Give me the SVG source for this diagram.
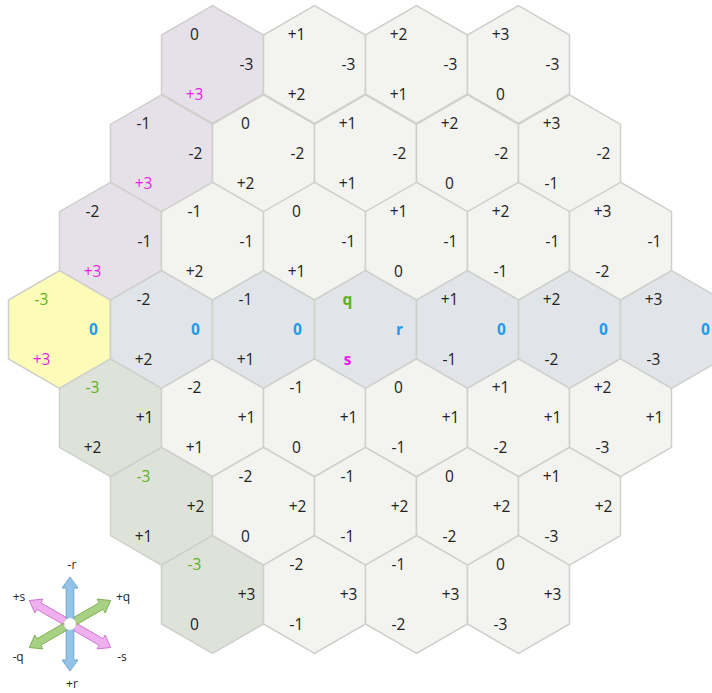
<svg xmlns="http://www.w3.org/2000/svg" xmlns:xlink="http://www.w3.org/1999/xlink" width="712" height="693" viewBox="0 0 712 693">
<style>
.hx{stroke:#cfcfcc;stroke-width:1.5}
.fg{fill:#f3f3f0}.fp{fill:#e6e1e8}.fb{fill:#e1e5e9}.fn{fill:#dee3d9}.fy{fill:#fcfcb8}
text{font-family:"Open Sans","Noto Sans","Liberation Sans",sans-serif;font-size:15.5px;fill:#222;text-anchor:middle}
.cq{fill:#5cb31a}.cr{fill:#1f9bea;font-weight:bold}.cs{fill:#e61ee6}
.bold{font-weight:bold}
.lg{font-size:12px}
.ab{fill:#6fb0e0;fill-opacity:.75;stroke:#5a9cc8;stroke-width:.8}
.ap{fill:#e585e5;fill-opacity:.65;stroke:#c86ac8;stroke-width:.8}
.ag{fill:#8cc25a;fill-opacity:.75;stroke:#74a848;stroke-width:.8}
</style>
<defs>
<polygon id="hx" points="0,-58.9 51,-29.45 51,29.45 0,58.9 -51,29.45 -51,-29.45"/>
<polygon id="arr" points="-47,0 -36,-8 -36,-3.8 36,-3.8 36,-8 47,0 36,8 36,3.8 -36,3.8 -36,8"/>
</defs>
<g id="grid">
<g id="h_0_m3" transform="translate(212.5,64.45)"><use href="#hx" class="hx fp"/><text x="-18" y="-24.5">0</text><text x="34" y="5.5">-3</text><text x="-18" y="35.5" class="cs">+3</text></g>
<g id="h_1_m3" transform="translate(314.5,64.45)"><use href="#hx" class="hx fg"/><text x="-18" y="-24.5">+1</text><text x="34" y="5.5">-3</text><text x="-18" y="35.5">+2</text></g>
<g id="h_2_m3" transform="translate(416.5,64.45)"><use href="#hx" class="hx fg"/><text x="-18" y="-24.5">+2</text><text x="34" y="5.5">-3</text><text x="-18" y="35.5">+1</text></g>
<g id="h_3_m3" transform="translate(518.5,64.45)"><use href="#hx" class="hx fg"/><text x="-18" y="-24.5">+3</text><text x="34" y="5.5">-3</text><text x="-18" y="35.5">0</text></g>

<g id="h_m1_m2" transform="translate(161.5,153.8)"><use href="#hx" class="hx fp"/><text x="-18" y="-24.5">-1</text><text x="34" y="5.5">-2</text><text x="-18" y="35.5" class="cs">+3</text></g>
<g id="h_0_m2" transform="translate(263.5,153.8)"><use href="#hx" class="hx fg"/><text x="-18" y="-24.5">0</text><text x="34" y="5.5">-2</text><text x="-18" y="35.5">+2</text></g>
<g id="h_1_m2" transform="translate(365.5,153.8)"><use href="#hx" class="hx fg"/><text x="-18" y="-24.5">+1</text><text x="34" y="5.5">-2</text><text x="-18" y="35.5">+1</text></g>
<g id="h_2_m2" transform="translate(467.5,153.8)"><use href="#hx" class="hx fg"/><text x="-18" y="-24.5">+2</text><text x="34" y="5.5">-2</text><text x="-18" y="35.5">0</text></g>
<g id="h_3_m2" transform="translate(569.5,153.8)"><use href="#hx" class="hx fg"/><text x="-18" y="-24.5">+3</text><text x="34" y="5.5">-2</text><text x="-18" y="35.5">-1</text></g>

<g id="h_m2_m1" transform="translate(110.5,241.15)"><use href="#hx" class="hx fp"/><text x="-18" y="-24.5">-2</text><text x="34" y="5.5">-1</text><text x="-18" y="35.5" class="cs">+3</text></g>
<g id="h_m1_m1" transform="translate(212.5,241.15)"><use href="#hx" class="hx fg"/><text x="-18" y="-24.5">-1</text><text x="34" y="5.5">-1</text><text x="-18" y="35.5">+2</text></g>
<g id="h_0_m1" transform="translate(314.5,241.15)"><use href="#hx" class="hx fg"/><text x="-18" y="-24.5">0</text><text x="34" y="5.5">-1</text><text x="-18" y="35.5">+1</text></g>
<g id="h_1_m1" transform="translate(416.5,241.15)"><use href="#hx" class="hx fg"/><text x="-18" y="-24.5">+1</text><text x="34" y="5.5">-1</text><text x="-18" y="35.5">0</text></g>
<g id="h_2_m1" transform="translate(518.5,241.15)"><use href="#hx" class="hx fg"/><text x="-18" y="-24.5">+2</text><text x="34" y="5.5">-1</text><text x="-18" y="35.5">-1</text></g>
<g id="h_3_m1" transform="translate(620.5,241.15)"><use href="#hx" class="hx fg"/><text x="-18" y="-24.5">+3</text><text x="34" y="5.5">-1</text><text x="-18" y="35.5">-2</text></g>

<g id="h_m3_0" transform="translate(59.5,329.5)"><use href="#hx" class="hx fy"/><text x="-18" y="-24.5" class="cq">-3</text><text x="34" y="5.5" class="cr">0</text><text x="-18" y="35.5" class="cs">+3</text></g>
<g id="h_m2_0" transform="translate(161.5,329.5)"><use href="#hx" class="hx fb"/><text x="-18" y="-24.5">-2</text><text x="34" y="5.5" class="cr">0</text><text x="-18" y="35.5">+2</text></g>
<g id="h_m1_0" transform="translate(263.5,329.5)"><use href="#hx" class="hx fb"/><text x="-18" y="-24.5">-1</text><text x="34" y="5.5" class="cr">0</text><text x="-18" y="35.5">+1</text></g>
<g id="h_0_0" transform="translate(365.5,329.5)"><use href="#hx" class="hx fb"/><text x="-18" y="-24.5" class="cq bold">q</text><text x="34" y="5.5" class="cr">r</text><text x="-18" y="35.5" class="cs bold">s</text></g>
<g id="h_1_0" transform="translate(467.5,329.5)"><use href="#hx" class="hx fb"/><text x="-18" y="-24.5">+1</text><text x="34" y="5.5" class="cr">0</text><text x="-18" y="35.5">-1</text></g>
<g id="h_2_0" transform="translate(569.5,329.5)"><use href="#hx" class="hx fb"/><text x="-18" y="-24.5">+2</text><text x="34" y="5.5" class="cr">0</text><text x="-18" y="35.5">-2</text></g>
<g id="h_3_0" transform="translate(671.5,329.5)"><use href="#hx" class="hx fb"/><text x="-18" y="-24.5">+3</text><text x="34" y="5.5" class="cr">0</text><text x="-18" y="35.5">-3</text></g>

<g id="h_m3_1" transform="translate(110.5,417.85)"><use href="#hx" class="hx fn"/><text x="-18" y="-24.5" class="cq">-3</text><text x="34" y="5.5">+1</text><text x="-18" y="35.5">+2</text></g>
<g id="h_m2_1" transform="translate(212.5,417.85)"><use href="#hx" class="hx fg"/><text x="-18" y="-24.5">-2</text><text x="34" y="5.5">+1</text><text x="-18" y="35.5">+1</text></g>
<g id="h_m1_1" transform="translate(314.5,417.85)"><use href="#hx" class="hx fg"/><text x="-18" y="-24.5">-1</text><text x="34" y="5.5">+1</text><text x="-18" y="35.5">0</text></g>
<g id="h_0_1" transform="translate(416.5,417.85)"><use href="#hx" class="hx fg"/><text x="-18" y="-24.5">0</text><text x="34" y="5.5">+1</text><text x="-18" y="35.5">-1</text></g>
<g id="h_1_1" transform="translate(518.5,417.85)"><use href="#hx" class="hx fg"/><text x="-18" y="-24.5">+1</text><text x="34" y="5.5">+1</text><text x="-18" y="35.5">-2</text></g>
<g id="h_2_1" transform="translate(620.5,417.85)"><use href="#hx" class="hx fg"/><text x="-18" y="-24.5">+2</text><text x="34" y="5.5">+1</text><text x="-18" y="35.5">-3</text></g>

<g id="h_m3_2" transform="translate(161.5,506.2)"><use href="#hx" class="hx fn"/><text x="-18" y="-24.5" class="cq">-3</text><text x="34" y="5.5">+2</text><text x="-18" y="35.5">+1</text></g>
<g id="h_m2_2" transform="translate(263.5,506.2)"><use href="#hx" class="hx fg"/><text x="-18" y="-24.5">-2</text><text x="34" y="5.5">+2</text><text x="-18" y="35.5">0</text></g>
<g id="h_m1_2" transform="translate(365.5,506.2)"><use href="#hx" class="hx fg"/><text x="-18" y="-24.5">-1</text><text x="34" y="5.5">+2</text><text x="-18" y="35.5">-1</text></g>
<g id="h_0_2" transform="translate(467.5,506.2)"><use href="#hx" class="hx fg"/><text x="-18" y="-24.5">0</text><text x="34" y="5.5">+2</text><text x="-18" y="35.5">-2</text></g>
<g id="h_1_2" transform="translate(569.5,506.2)"><use href="#hx" class="hx fg"/><text x="-18" y="-24.5">+1</text><text x="34" y="5.5">+2</text><text x="-18" y="35.5">-3</text></g>

<g id="h_m3_3" transform="translate(212.5,594.55)"><use href="#hx" class="hx fn"/><text x="-18" y="-24.5" class="cq">-3</text><text x="34" y="5.5">+3</text><text x="-18" y="35.5">0</text></g>
<g id="h_m2_3" transform="translate(314.5,594.55)"><use href="#hx" class="hx fg"/><text x="-18" y="-24.5">-2</text><text x="34" y="5.5">+3</text><text x="-18" y="35.5">-1</text></g>
<g id="h_m1_3" transform="translate(416.5,594.55)"><use href="#hx" class="hx fg"/><text x="-18" y="-24.5">-1</text><text x="34" y="5.5">+3</text><text x="-18" y="35.5">-2</text></g>
<g id="h_0_3" transform="translate(518.5,594.55)"><use href="#hx" class="hx fg"/><text x="-18" y="-24.5">0</text><text x="34" y="5.5">+3</text><text x="-18" y="35.5">-3</text></g>
</g>
<g id="legend">
<g id="connectors">
<use href="#arr" class="ap" transform="translate(70,624) rotate(30)"/>
<use href="#arr" class="ag" transform="translate(70,624) rotate(-30)"/>
<use href="#arr" class="ab" transform="translate(70,624) rotate(90)"/>
</g>
<circle cx="70" cy="624" r="6" fill="#fff" stroke="#d8d8d8" stroke-width="0.8"/>
<text class="lg" x="72" y="569">-r</text>
<text class="lg" x="72" y="688">+r</text>
<text class="lg" x="19" y="601">+s</text>
<text class="lg" x="123" y="601">+q</text>
<text class="lg" x="18" y="661">-q</text>
<text class="lg" x="122" y="661">-s</text>
</g>
</svg>
